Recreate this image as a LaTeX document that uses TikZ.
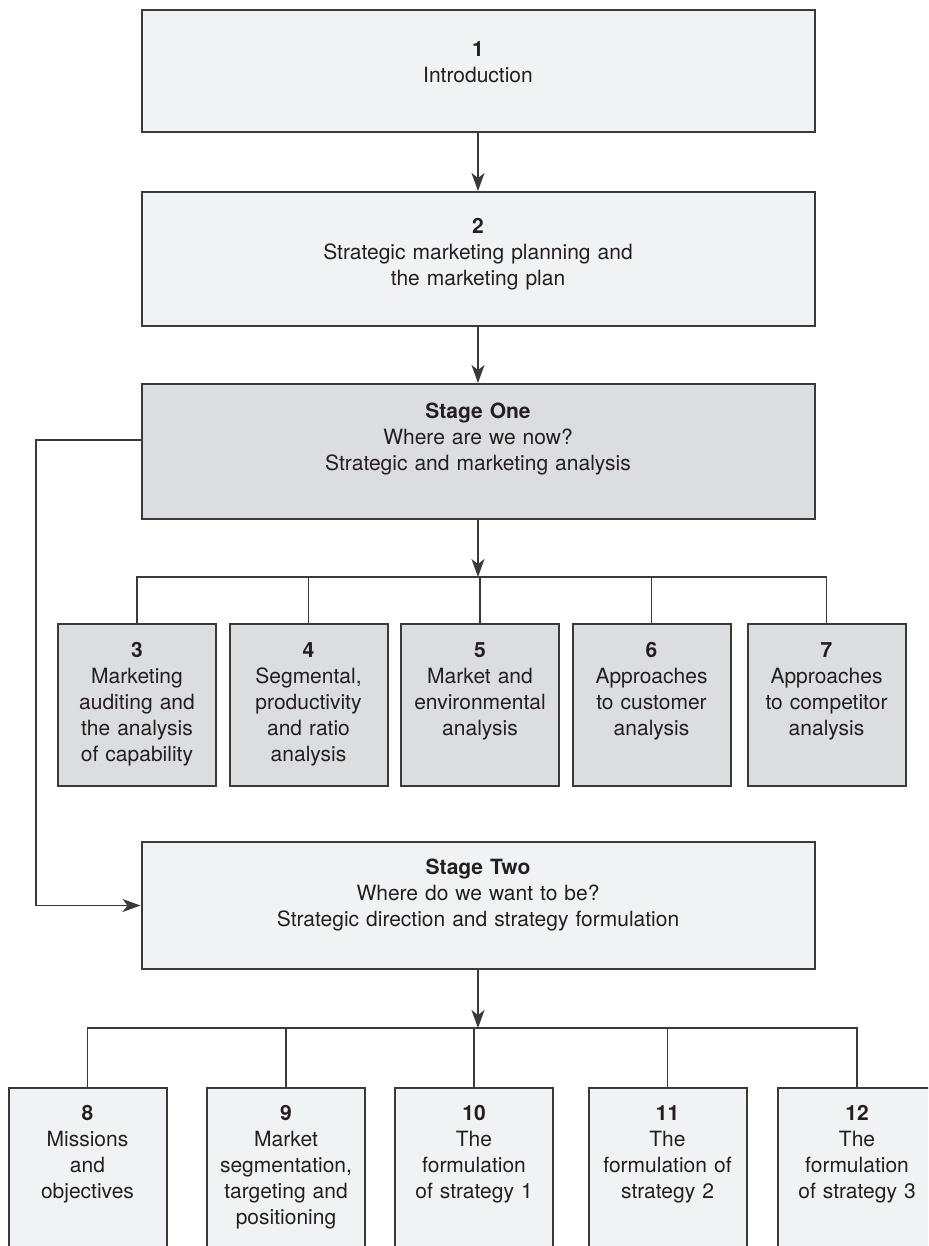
\documentclass[tikz,border=0pt]{standalone}
\usepackage{fontspec}
\setmainfont{TeX Gyre Heros}
\usetikzlibrary{arrows.meta}
\definecolor{boxline}{HTML}{3A3A3A}
\definecolor{palefill}{HTML}{F1F2F4}
\definecolor{greyfill}{HTML}{DCDDDF}
\definecolor{inkc}{HTML}{231F20}
\tikzset{
  bigbox/.style={draw=boxline,line width=1pt,inner sep=0pt,text width=336.5pt,align=center,anchor=north},
  chapbox/.style={draw=boxline,line width=1pt,inner sep=0pt,text width=79pt,align=center,anchor=north,text height=16.5pt},
  link/.style={draw=boxline,line width=0.7pt}
}
\begin{document}
\begin{tikzpicture}[x=0.5pt,y=-0.5pt,>={Stealth[length=9pt,width=6.5pt,inset=2.5pt]},font=\fontsize{10.5}{13}\selectfont,text=inkc]
\useasboundingbox (0,0) rectangle (928,1246);
\clip (0,0) rectangle (928,1246);
% top of the plan
\node[bigbox,fill=palefill,text height=23.5pt,text depth=37.5pt] (ch1) at (478,9) {\textbf{1}\\Introduction};
\node[bigbox,fill=palefill,text height=21pt,text depth=46pt] (ch2) at (478,191) {\textbf{2}\\Strategic marketing planning and\\the marketing plan};
\node[bigbox,fill=greyfill,text height=17pt,text depth=50.5pt] (st1) at (478,383) {\textbf{Stage One}\\Where are we now?\\Strategic and marketing analysis};
\draw[link,->] (ch1) -- (ch2);
\draw[link,->] (ch2) -- (st1);
% stage one chapters
\node[chapbox,fill=greyfill,text depth=64.5pt] (ch3) at (137,623) {\textbf{3}\\Marketing\\auditing and\\the analysis\\of capability};
\node[chapbox,fill=greyfill,text depth=64.5pt] (ch4) at (308.5,623) {\textbf{4}\\Segmental,\\productivity\\and ratio\\analysis};
\node[chapbox,fill=greyfill,text depth=64.5pt] (ch5) at (480,623) {\textbf{5}\\Market and\\environmental\\analysis};
\node[chapbox,fill=greyfill,text depth=64.5pt] (ch6) at (651.5,623) {\textbf{6}\\Approaches\\to customer\\analysis};
\node[chapbox,fill=greyfill,text depth=64.5pt] (ch7) at (826.5,623) {\textbf{7}\\Approaches\\to competitor\\analysis};
\coordinate (fork1) at (478,577);
\draw[link,->] (st1.south) -- (st1.south |- fork1);
\draw[link] (ch3.north) -- (ch3.north |- fork1) -- (ch7.north |- fork1) -- (ch7.north);
\foreach \c in {4,5,6}
  \draw[link] (ch\c.north) -- (ch\c.north |- fork1);
% stage two
\node[bigbox,fill=palefill,text height=16pt,text depth=47.5pt] (st2) at (478,841) {\textbf{Stage Two}\\Where do we want to be?\\Strategic direction and strategy formulation};
\draw[link,->] ([yshift=5.75pt]st1.west) -- ++(-104.5,0) |- (st2.west);
\node[chapbox,fill=palefill,text height=16pt,text depth=90pt] (ch8) at (87.5,1087) {\textbf{8}\\Missions\\and\\objectives};
\node[chapbox,fill=palefill,text height=16pt,text depth=90pt] (ch9) at (286,1087) {\textbf{9}\\Market\\segmentation,\\targeting and\\positioning};
\node[chapbox,fill=palefill,text height=16pt,text depth=90pt] (ch10) at (474,1087) {\textbf{10}\\The\\formulation\\of strategy 1};
\node[chapbox,fill=palefill,text height=16pt,text depth=90pt] (ch11) at (667.5,1087) {\textbf{11}\\The\\formulation of\\strategy 2};
\node[chapbox,fill=palefill,text height=16pt,text depth=90pt] (ch12) at (857,1087) {\textbf{12}\\The\\formulation\\of strategy 3};
\coordinate (fork2) at (478,1028);
\draw[link,->] (st2.south) -- (st2.south |- fork2);
\draw[link] (ch8.north) -- (ch8.north |- fork2) -- (ch12.north |- fork2) -- (ch12.north);
\foreach \c in {9,10,11}
  \draw[link] (ch\c.north) -- (ch\c.north |- fork2);
\end{tikzpicture}
\end{document}
